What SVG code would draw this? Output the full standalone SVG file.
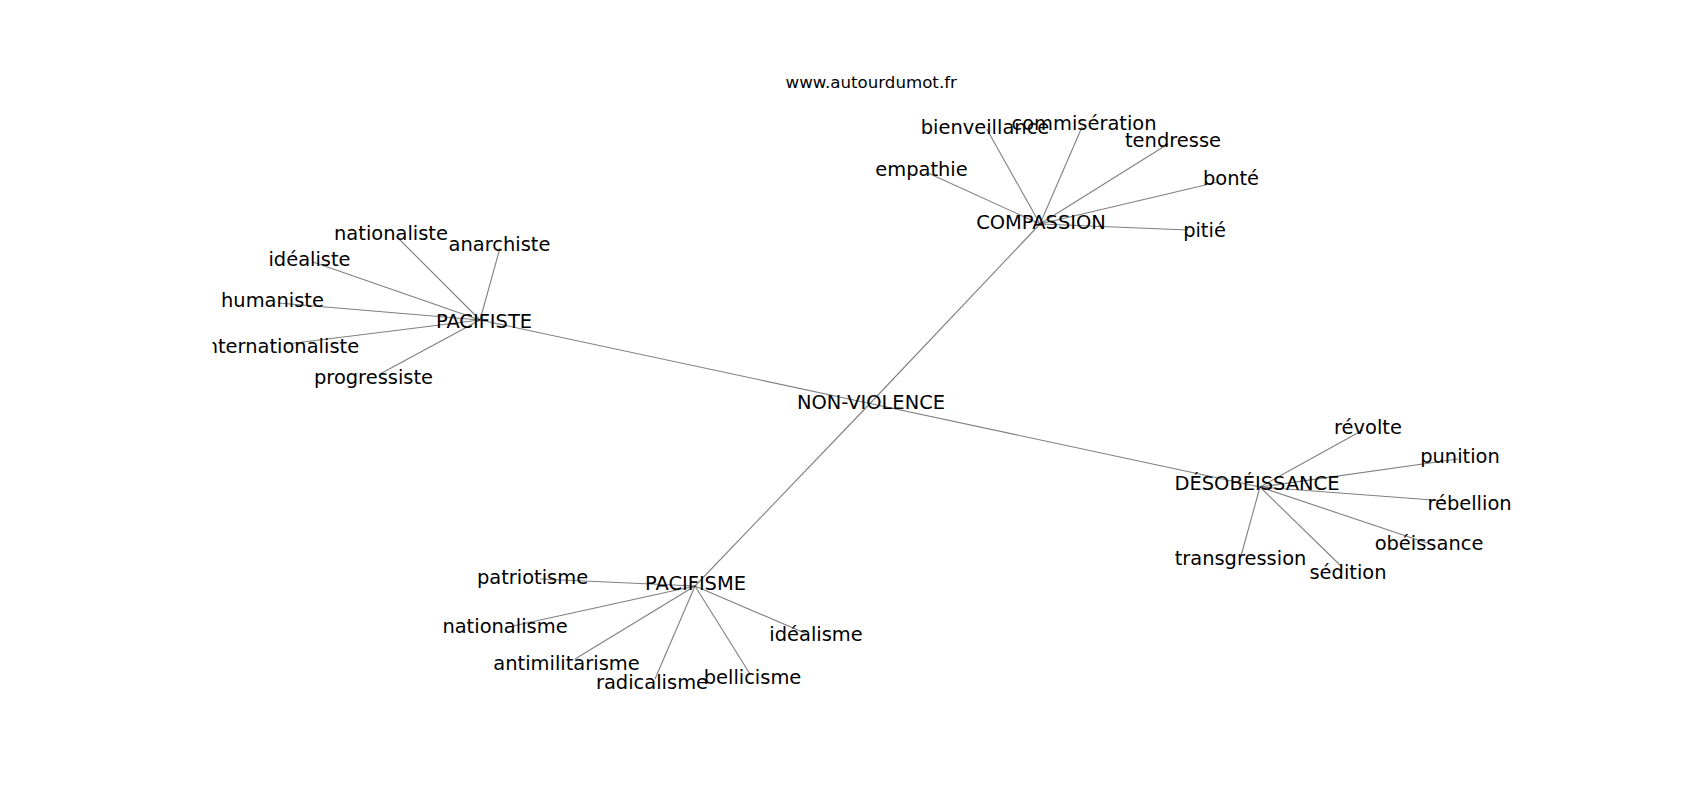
<svg xmlns="http://www.w3.org/2000/svg" width="1700" height="800" viewBox="0 0 1700 800">
<style>
.edge{stroke:#000;stroke-opacity:0.5;stroke-width:1.1;fill:none}
.label{font-family:"DejaVu Sans",sans-serif;font-size:19.44px;fill:#000;text-anchor:middle}
.title{font-family:"DejaVu Sans",sans-serif;font-size:16.67px;fill:#000;text-anchor:middle}
</style>
<defs>
<clipPath id="axes"><rect x="212.5" y="96" width="1317.5" height="616"/></clipPath>
</defs>
<rect width="1700" height="800" fill="#fff"/>
<text class="title" x="871.25" y="87.7">www.autourdumot.fr</text>
<g id="connectors">
<line class="edge" x1="870" y1="403.5" x2="1040" y2="224"/>
<line class="edge" x1="870" y1="403.5" x2="480" y2="320"/>
<line class="edge" x1="870" y1="403.5" x2="1260" y2="487"/>
<line class="edge" x1="870" y1="403.5" x2="695" y2="586"/>
<line class="edge" x1="1040" y1="224" x2="986.7" y2="129"/>
<line class="edge" x1="1040" y1="224" x2="1082" y2="127"/>
<line class="edge" x1="1040" y1="224" x2="1168" y2="144"/>
<line class="edge" x1="1040" y1="224" x2="928" y2="173"/>
<line class="edge" x1="1040" y1="224" x2="1218" y2="182"/>
<line class="edge" x1="1040" y1="224" x2="1188" y2="230"/>
<line class="edge" x1="480" y1="320" x2="396" y2="236"/>
<line class="edge" x1="480" y1="320" x2="500" y2="248"/>
<line class="edge" x1="480" y1="320" x2="313" y2="262"/>
<line class="edge" x1="480" y1="320" x2="278" y2="303"/>
<line class="edge" x1="480" y1="320" x2="287" y2="344"/>
<line class="edge" x1="480" y1="320" x2="380" y2="374"/>
<line class="edge" x1="1260" y1="487" x2="1363" y2="430"/>
<line class="edge" x1="1260" y1="487" x2="1458" y2="459"/>
<line class="edge" x1="1260" y1="487" x2="1446" y2="501"/>
<line class="edge" x1="1260" y1="487" x2="1427" y2="543"/>
<line class="edge" x1="1260" y1="487" x2="1342" y2="567"/>
<line class="edge" x1="1260" y1="487" x2="1241" y2="556"/>
<line class="edge" x1="695" y1="586" x2="540" y2="579"/>
<line class="edge" x1="695" y1="586" x2="513" y2="626"/>
<line class="edge" x1="695" y1="586" x2="575" y2="659"/>
<line class="edge" x1="695" y1="586" x2="655" y2="679"/>
<line class="edge" x1="695" y1="586" x2="750" y2="674"/>
<line class="edge" x1="695" y1="586" x2="807" y2="634"/>
</g>
<g clip-path="url(#axes)">
<g id="n-nonviolence"><text class="label" x="871" y="408.5">NON-VIOLENCE</text></g>
<g id="n-compassion"><text class="label" x="1041" y="228.5">COMPASSION</text></g>
<g id="n-pacifiste"><text class="label" x="484" y="328">PACIFISTE</text></g>
<g id="n-desobeissance"><text class="label" x="1257" y="490">DÉSOBÉISSANCE</text></g>
<g id="n-pacifisme"><text class="label" x="695.5" y="589.5">PACIFISME</text></g>
<g id="n-bienveillance"><text class="label" x="985" y="133.5">bienveillance</text></g>
<g id="n-commiseration"><text class="label" x="1084" y="130">commisération</text></g>
<g id="n-tendresse"><text class="label" x="1173" y="146.5">tendresse</text></g>
<g id="n-empathie"><text class="label" x="921.5" y="176">empathie</text></g>
<g id="n-bonte"><text class="label" x="1231" y="185">bonté</text></g>
<g id="n-pitie"><text class="label" x="1204.5" y="236.5">pitié</text></g>
<g id="n-nationaliste"><text class="label" x="391" y="239.5">nationaliste</text></g>
<g id="n-anarchiste"><text class="label" x="499.5" y="250.5">anarchiste</text></g>
<g id="n-idealiste"><text class="label" x="309.5" y="266">idéaliste</text></g>
<g id="n-humaniste"><text class="label" x="272.5" y="306.5">humaniste</text></g>
<g id="n-internationaliste"><text class="label" x="279.7" y="352.5">internationaliste</text></g>
<g id="n-progressiste"><text class="label" x="373.5" y="383.5">progressiste</text></g>
<g id="n-revolte"><text class="label" x="1368" y="433.5">révolte</text></g>
<g id="n-punition"><text class="label" x="1460" y="463">punition</text></g>
<g id="n-rebellion"><text class="label" x="1469.5" y="510">rébellion</text></g>
<g id="n-obeissance"><text class="label" x="1429" y="550">obéissance</text></g>
<g id="n-sedition"><text class="label" x="1348" y="578.5">sédition</text></g>
<g id="n-transgression"><text class="label" x="1240.5" y="565">transgression</text></g>
<g id="n-patriotisme"><text class="label" x="532.5" y="583.5">patriotisme</text></g>
<g id="n-nationalisme"><text class="label" x="505" y="632.5">nationalisme</text></g>
<g id="n-antimilitarisme"><text class="label" x="566.5" y="670">antimilitarisme</text></g>
<g id="n-radicalisme"><text class="label" x="652" y="688.5">radicalisme</text></g>
<g id="n-bellicisme"><text class="label" x="752.5" y="683.5">bellicisme</text></g>
<g id="n-idealisme"><text class="label" x="816" y="640.5">idéalisme</text></g>
</g>
</svg>
